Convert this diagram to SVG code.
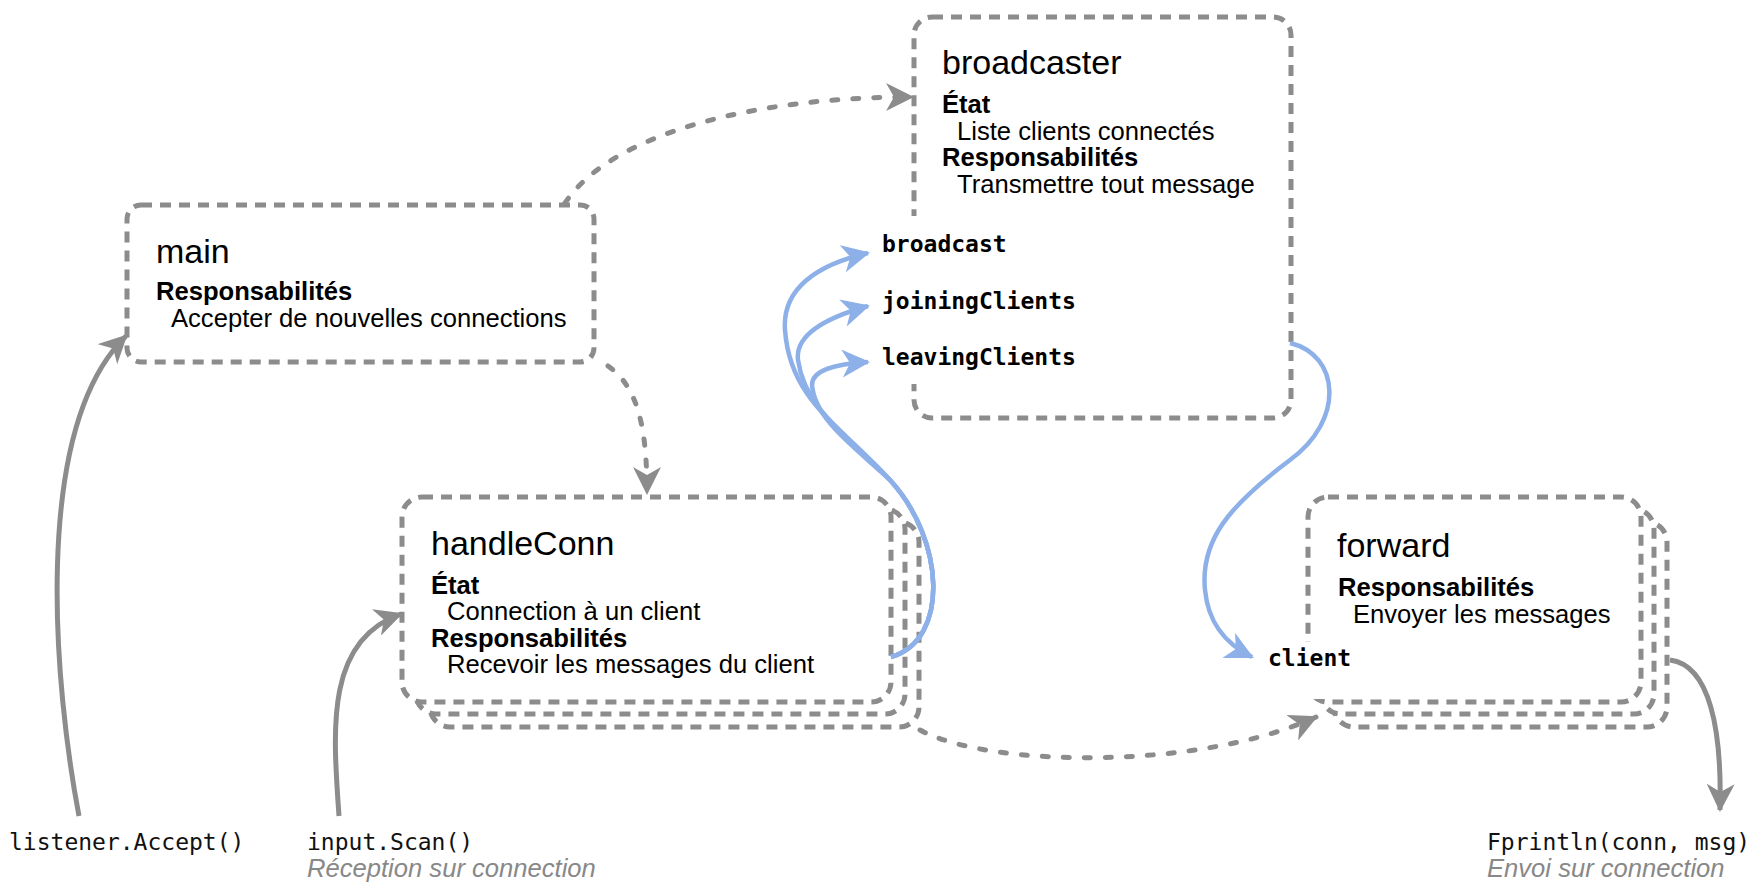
<svg xmlns="http://www.w3.org/2000/svg" width="1764" height="888" viewBox="0 0 1764 888">
<style>
.box{fill:#fff;stroke:#8c8c8c;stroke-width:5;stroke-dasharray:11 8}
.title{font-family:"Liberation Sans",Arial,sans-serif;font-size:34px;fill:#000}
.head{font-family:"Liberation Sans",Arial,sans-serif;font-size:25.6px;font-weight:bold;fill:#000}
.body{font-family:"Liberation Sans",Arial,sans-serif;font-size:25.6px;fill:#000}
.chan{font-family:"DejaVu Sans Mono",monospace;font-size:23px;font-weight:bold;fill:#000}
.code{font-family:"DejaVu Sans Mono",monospace;font-size:23px;fill:#111}
.note{font-family:"Liberation Sans",Arial,sans-serif;font-size:25.6px;font-style:italic;fill:#888}
.dot{fill:none;stroke:#8c8c8c;stroke-width:5;stroke-linecap:round;stroke-dasharray:6 15}
.solid{fill:none;stroke:#8c8c8c;stroke-width:5}
.blue{fill:none;stroke:#8db0e9;stroke-width:4.5}
</style>
<defs>
<marker id="ag" markerUnits="userSpaceOnUse" markerWidth="30" markerHeight="28" viewBox="0 0 30 28" refX="26" refY="14" orient="auto">
<path d="M0,0 L28,14 L0,28 L8,14 z" fill="#8c8c8c"/>
</marker>
<marker id="ab" markerUnits="userSpaceOnUse" markerWidth="30" markerHeight="28" viewBox="0 0 30 28" refX="26" refY="14" orient="auto">
<path d="M0,0 L28,14 L0,28 L8,14 z" fill="#8db0e9"/>
</marker>
</defs>
<rect width="1764" height="888" fill="#fff"/>

<g id="main">
<rect class="box" x="127" y="205" width="467" height="157" rx="14"/>
<text class="title" x="156" y="263">main</text>
<text class="head" x="156" y="300">Responsabilités</text>
<text class="body" x="171" y="327">Accepter de nouvelles connections</text>
</g>

<g id="broadcaster">
<rect class="box" x="914" y="17" width="377" height="401" rx="18"/>
<text class="title" x="942" y="74">broadcaster</text>
<text class="head" x="942" y="113">État</text>
<text class="body" x="957" y="140">Liste clients connectés</text>
<text class="head" x="942" y="166">Responsabilités</text>
<text class="body" x="957" y="193">Transmettre tout message</text>
<rect x="876" y="216" width="210" height="168" fill="#fff"/>
<text class="chan" x="882" y="252">broadcast</text>
<text class="chan" x="882" y="309">joiningClients</text>
<text class="chan" x="882" y="365">leavingClients</text>
</g>

<g id="handleConn">
<rect class="box" x="430" y="522" width="489" height="205" rx="20"/>
<rect class="box" x="416" y="509" width="489" height="205" rx="20"/>
<rect class="box" x="402" y="497" width="489" height="205" rx="20"/>
<text class="title" x="431" y="555">handleConn</text>
<text class="head" x="431" y="594">État</text>
<text class="body" x="447" y="620">Connection à un client</text>
<text class="head" x="431" y="647">Responsabilités</text>
<text class="body" x="447" y="673">Recevoir les messages du client</text>
</g>

<g id="forward">
<rect class="box" x="1334" y="522" width="333" height="205" rx="20"/>
<rect class="box" x="1321" y="509" width="333" height="205" rx="20"/>
<rect class="box" x="1308" y="497" width="333" height="205" rx="20"/>
<text class="title" x="1337" y="557">forward</text>
<text class="head" x="1338" y="596">Responsabilités</text>
<text class="body" x="1353" y="623">Envoyer les messages</text>
<rect x="1262" y="642" width="100" height="57" fill="#fff"/>
<text class="chan" x="1268" y="666">client</text>
</g>

<g id="listener">
<text class="code" x="9" y="850">listener.Accept()</text>
</g>
<g id="input">
<text class="code" x="307" y="850">input.Scan()</text>
<text class="note" x="307" y="877">Réception sur connection</text>
</g>
<g id="fprintln">
<text class="code" x="1487" y="850">Fprintln(conn, msg)</text>
<text class="note" x="1487" y="877">Envoi sur connection</text>
</g>

<g id="connectors">
<path class="dot" d="M565,203 C610,135 750,97 912,97" marker-end="url(#ag)"/>
<path class="dot" d="M608,366 C635,385 647,420 647,493" marker-end="url(#ag)"/>
<path class="dot" d="M920,730 C990,768 1200,770 1316,717" marker-end="url(#ag)"/>
<path class="solid" d="M79,816 C55,690 30,430 126,336" marker-end="url(#ag)"/>
<path class="solid" d="M339,816 C333,730 325,640 401,614" marker-end="url(#ag)"/>
<path class="solid" d="M1670,660 C1710,665 1722,730 1720,810" marker-end="url(#ag)"/>
<path class="blue" d="M891,657 C950,640 945,540 890,480 C840,425 790,400 785,330 C782,290 815,265 868,253" marker-end="url(#ab)"/>
<path class="blue" d="M891,657 C950,640 945,540 890,480 C850,437 805,410 798,360 C795,335 825,318 868,306" marker-end="url(#ab)"/>
<path class="blue" d="M891,657 C950,640 945,540 890,480 C855,447 815,420 812,385 C812,370 835,364 868,362" marker-end="url(#ab)"/>
<path class="blue" d="M1290,343 C1340,355 1345,420 1290,460 C1230,505 1200,540 1205,590 C1208,620 1222,642 1252,657" marker-end="url(#ab)"/>
</g>
</svg>
